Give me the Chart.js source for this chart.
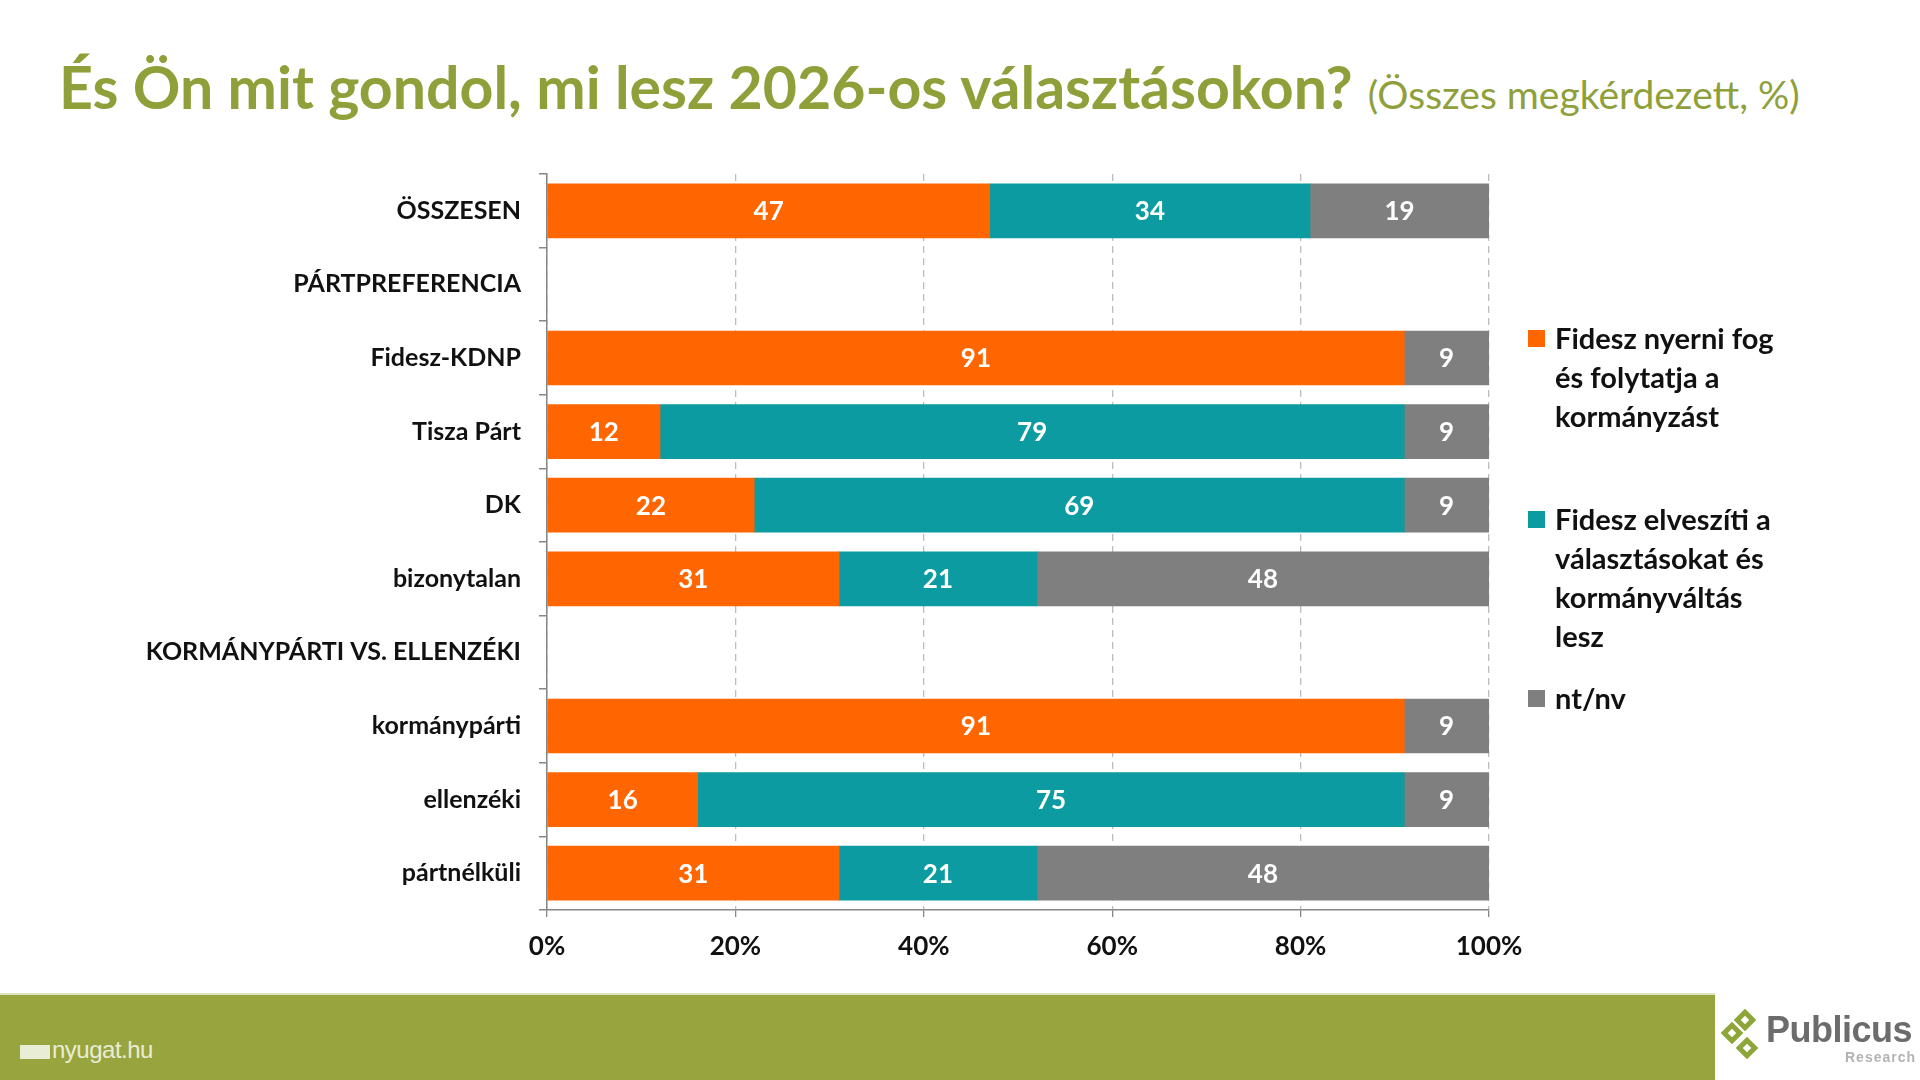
<!DOCTYPE html>
<html>
<head>
<meta charset="utf-8">
<script src="https://cdn.jsdelivr.net/npm/chart.js@4/dist/chart.umd.min.js"></script>
<style>
  body { margin: 0; width: 1920px; height: 1080px; overflow: hidden; background: #fff; font-family: Lato, "Open Sans", sans-serif; position: relative; }
  #title { position: absolute; left: 59px; top: 51px; white-space: nowrap; color: #8fa03a; }
  #title .main { font-weight: 700; font-size: 59px; }
  #title .sub { font-weight: 400; font-size: 39px; margin-left: 15px; }
  #wrap { position: absolute; left: 0; top: 141px; }
  #legend { position: absolute; left: 1528px; top: 318px; font-weight: 700; font-size: 29px; line-height: 39px; color: #111; }
  .item { position: relative; padding-left: 27px; }
  .item .sw { position: absolute; left: 0; top: 12px; width: 17px; height: 17px; }
  #band { position: absolute; left: 0; top: 993px; width: 1715px; height: 87px; background: #98a53e; border-top: 2px solid #dfe4c0; }
  #nyugat { position: absolute; left: 20px; top: 1036px; color: #e9edd6; font-family: "Liberation Sans Narrow", "Liberation Sans", sans-serif; font-size: 24px; letter-spacing: -0.5px; }
  #nyugat .ic { display: inline-block; width: 30px; height: 14px; background: #e9edd6; margin-right: 2px; vertical-align: -1px; }
  #logo { position: absolute; left: 1716px; top: 995px; width: 204px; height: 85px; }
  .dia { position: absolute; width: 6px; height: 6px; transform: rotate(45deg); border: 5px solid #8ca63a; background: #fff; }
  #pub { position: absolute; left: 50px; top: 14px; font-family: "Liberation Sans", sans-serif; font-weight: 700; font-size: 36px; color: #6c6c6c; letter-spacing: -0.5px; }
  #res { position: absolute; left: 129px; top: 54px; font-family: "Liberation Sans", sans-serif; font-weight: 700; font-size: 14px; color: #b3b3b3; letter-spacing: 1px; }
</style>
</head>
<body>
<div id="title"><span class="main">És Ön mit gondol, mi lesz 2026-os választásokon?</span><span class="sub">(Összes megkérdezett, %)</span></div>

<div id="wrap"><canvas id="chart" width="1540" height="859"></canvas></div>

<div id="legend"></div>

<div id="band"></div>
<div id="nyugat"><span class="ic"></span>nyugat.hu</div>
<div id="logo">
  <div class="dia" style="left:21px;top:17px;"></div>
  <div class="dia" style="left:8px;top:30px;"></div>
  <div class="dia" style="left:23px;top:45px;"></div>
  <div id="pub">Publicus</div>
  <div id="res">Research</div>
</div>

<script>
const categories = [
  "ÖSSZESEN",
  "PÁRTPREFERENCIA",
  "Fidesz-KDNP",
  "Tisza Párt",
  "DK",
  "bizonytalan",
  "KORMÁNYPÁRTI VS. ELLENZÉKI",
  "kormánypárti",
  "ellenzéki",
  "pártnélküli"
];

const seriesNames = [
  ["Fidesz nyerni fog", "és folytatja a", "kormányzást"],
  ["Fidesz elveszíti a", "választásokat és", "kormányváltás", "lesz"],
  ["nt/nv"]
];

const fideszWins = [47, null, 91, 12, 22, 31, null, 91, 16, 31];
const fideszLoses = [34, null, null, 79, 69, 21, null, null, 75, 21];
const dontKnow = [19, null, 9, 9, 9, 48, null, 9, 9, 48];

const xTicks = [0, 20, 40, 60, 80, 100];

const colors = ["#ff6600", "#0b9ba1", "#7f7f7f"];

// legend (multi line labels, so done in html)
const legend = document.getElementById("legend");
const gaps = [0, 64, 23];
seriesNames.forEach((lines, i) => {
  const d = document.createElement("div");
  d.className = "item";
  d.style.marginTop = gaps[i] + "px";
  d.innerHTML = '<span class="sw" style="background:' + colors[i] + '"></span>' + lines.join("<br>");
  legend.appendChild(d);
});

const valueLabels = {
  id: "valueLabels",
  afterDatasetsDraw(chart) {
    const ctx = chart.ctx;
    ctx.save();
    ctx.font = "bold 26px Lato";
    ctx.fillStyle = "#fff";
    ctx.textAlign = "center";
    ctx.textBaseline = "middle";
    chart.data.datasets.forEach((ds, i) => {
      chart.getDatasetMeta(i).data.forEach((bar, j) => {
        const v = ds.data[j];
        if (v == null) return;
        const c = bar.getCenterPoint();
        ctx.fillText(v, c.x, c.y + 1);
      });
    });
    ctx.restore();
  }
};

const ctx = document.getElementById("chart").getContext("2d");
new Chart(ctx, {
  type: "bar",
  data: {
    labels: categories,
    datasets: [
      { label: seriesNames[0].join(" "), data: fideszWins, backgroundColor: colors[0] },
      { label: seriesNames[1].join(" "), data: fideszLoses, backgroundColor: colors[1] },
      { label: seriesNames[2].join(" "), data: dontKnow, backgroundColor: colors[2] }
    ]
  },
  options: {
    indexAxis: "y",
    responsive: false,
    animation: false,
    layout: { padding: { top: 0, right: 51, bottom: 30, left: 0 } },
    datasets: { bar: { barThickness: 54 } },
    plugins: { legend: { display: false }, tooltip: { enabled: false } },
    scales: {
      x: {
        stacked: true,
        min: 0,
        max: 100,
        afterBuildTicks: s => { s.ticks = xTicks.map(v => ({ value: v })); },
        afterFit: s => { s.height = 60; },
        ticks: {
          callback: v => v + "%",
          color: "#111",
          font: { family: "Lato", weight: "bold", size: 26 },
          padding: 14
        },
        grid: { color: "#bdbdbd", lineWidth: 1.3, tickLength: 7, tickColor: "#868686", tickBorderDash: [] },
        border: { color: "#868686", width: 1.5, dash: [7, 5] }
      },
      y: {
        stacked: true,
        afterFit: s => { s.width = 547; },
        ticks: {
          color: "#111",
          font: { family: "Lato", weight: "bold", size: 25 },
          padding: 18
        },
        grid: { offset: true, drawOnChartArea: false, tickLength: 8, color: "#868686", lineWidth: 1.5 },
        border: { color: "#868686", width: 1.5 }
      }
    }
  },
  plugins: [valueLabels]
});
</script>
</body>
</html>
